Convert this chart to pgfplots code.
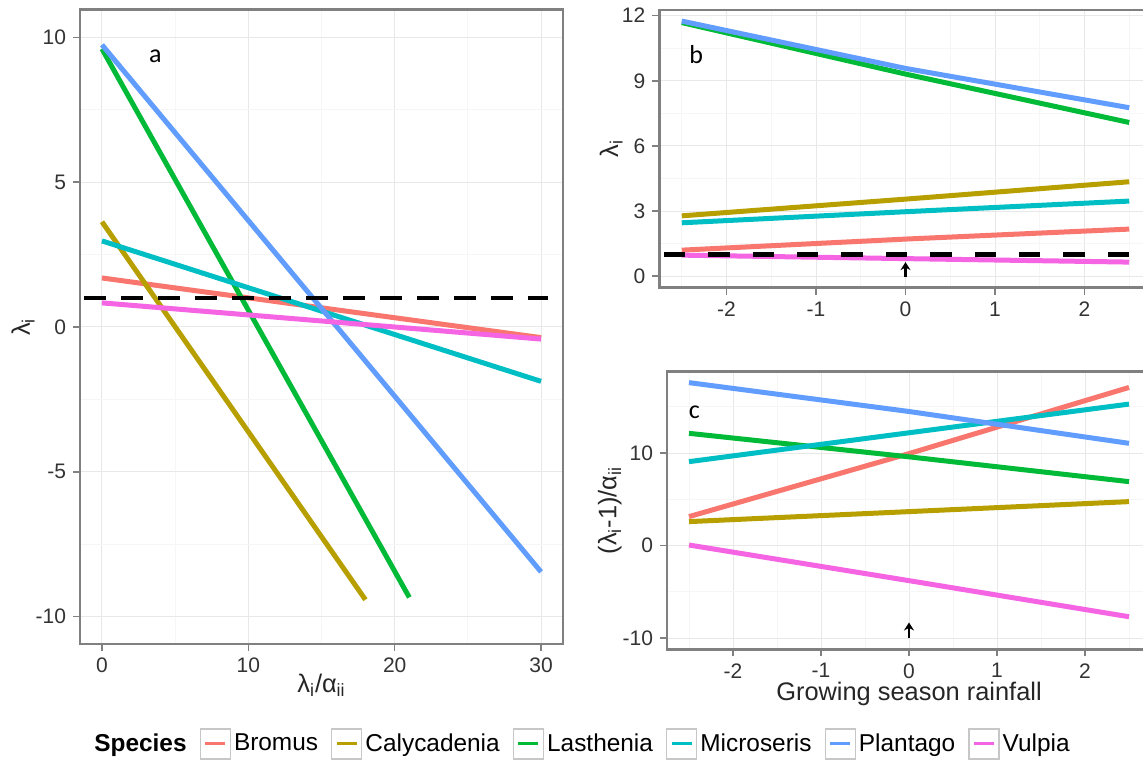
\documentclass[border=0pt]{standalone}
\usepackage{fontspec}
\setmainfont{Liberation Sans}
\newfontfamily\panelfont{Carlito}
\usepackage{pgfplots}
\pgfplotsset{compat=1.18}
\usetikzlibrary{arrows.meta}

\definecolor{cBro}{HTML}{F8766D}
\definecolor{cCal}{HTML}{B79F00}
\definecolor{cLas}{HTML}{00BA38}
\definecolor{cMic}{HTML}{00BFC4}
\definecolor{cPla}{HTML}{619CFF}
\definecolor{cVul}{HTML}{F564E3}
\definecolor{frameg}{gray}{0.5}
\definecolor{gmaj}{gray}{0.91}
\definecolor{gmin}{gray}{0.965}
\definecolor{keyg}{gray}{0.78}

\pgfplotsset{
  gg/.style={
    scale only axis,
    axis background/.style={fill=white},
    axis line style={draw=frameg, line width=1.3pt},
    tick align=outside,
    tick pos=left,
    major tick length=3.5pt,
    minor tick length=0pt,
    every tick/.style={draw=frameg, line width=0.8pt},
    grid=both,
    major grid style={draw=gmaj, line width=0.5pt},
    minor grid style={draw=gmin, line width=0.5pt},
    tick label style={font=\fontsize{10.5}{12}\selectfont, text=black!80},
    label style={font=\fontsize{12.7}{14}\selectfont, text=black!85},
    clip=false,
  },
  sp/.style={line width=2.5pt},
  arr/.style={black, line width=1.4pt, -{Stealth[length=4pt,width=5pt]}},
}

\begin{document}
\begin{tikzpicture}
\useasboundingbox (0,0) rectangle (571.5pt,380.5pt);
\clip (0,0) rectangle (571.5pt,380.5pt);

% ---------------- panel a
\begin{axis}[gg,
  at={(40pt,58.5pt)}, anchor=south west,
  width=241.5pt, height=317.1pt,
  xmin=-1.5, xmax=31.5, ymin=-10.95, ymax=10.95,
  xtick={0,10,20,30}, xticklabels={0,10,20,30},
  minor xtick={5,15,25},
  ytick={-10,-5,0,5,10}, yticklabels={-10,-5,0,5,10},
  minor ytick={-7.5,-2.5,2.5,7.5},
  xlabel={λ\textsubscript{i}/α\textsubscript{ii}},
  ylabel={λ\textsubscript{i}},
  xlabel style={at={(axis description cs:0.5,-0.0757)}, anchor=base},
  ylabel style={at={(axis description cs:-0.118,0.5)}, anchor=center},
  legend columns=-1,
  legend style={at={(axis description cs:1.0393,-0.1574)}, anchor=center,
    font=\fontsize{12.2}{14}\selectfont,
    nodes={inner sep=1.5pt},
    /tikz/every even column/.append style={column sep=5pt}},
  every axis legend/.append style={draw=none, fill=none},
]
\addlegendimage{empty legend}
\addlegendentry{\textbf{Species}}
\addplot[sp, cBro, forget plot] coordinates {(0,1.69) (30,-0.37)};
\addplot[sp, cCal, forget plot] coordinates {(0,3.63) (18,-9.42)};
\addplot[sp, cLas, forget plot] coordinates {(0,9.6) (21,-9.34)};
\addplot[sp, cMic, forget plot] coordinates {(0,2.97) (30,-1.88)};
\addplot[sp, cPla, forget plot] coordinates {(0,9.74) (30,-8.46)};
\addplot[sp, cVul, forget plot] coordinates {(0,0.83) (30,-0.42)};
\addplot[forget plot, black, line width=2.2pt, dash pattern=on 11pt off 7.5pt] coordinates {(-1.2,1) (30.5,1)};
\pgfplotsinvokeforeach{cBro/Bromus,cCal/Calycadenia,cLas/Lasthenia,cMic/Microseris,cPla/Plantago,cVul/Vulpia}{}
\addlegendimage{legend image code/.code={
    \path (0pt,0pt);
    \draw[draw=keyg, line width=0.7pt, solid] (0pt,-7.5pt) -- (15pt,-7.5pt) -- (15pt,7.5pt) -- (0pt,7.5pt) -- cycle;
    \draw[cBro, solid, line width=1.5pt] (2.5pt,0pt) -- (12.5pt,0pt);}}
\addlegendentry{Bromus}
\addlegendimage{legend image code/.code={
    \path (0pt,0pt);
    \draw[draw=keyg, line width=0.7pt, solid] (0pt,-7.5pt) -- (15pt,-7.5pt) -- (15pt,7.5pt) -- (0pt,7.5pt) -- cycle;
    \draw[cCal, solid, line width=1.5pt] (2.5pt,0pt) -- (12.5pt,0pt);}}
\addlegendentry{Calycadenia}
\addlegendimage{legend image code/.code={
    \path (0pt,0pt);
    \draw[draw=keyg, line width=0.7pt, solid] (0pt,-7.5pt) -- (15pt,-7.5pt) -- (15pt,7.5pt) -- (0pt,7.5pt) -- cycle;
    \draw[cLas, solid, line width=1.5pt] (2.5pt,0pt) -- (12.5pt,0pt);}}
\addlegendentry{Lasthenia}
\addlegendimage{legend image code/.code={
    \path (0pt,0pt);
    \draw[draw=keyg, line width=0.7pt, solid] (0pt,-7.5pt) -- (15pt,-7.5pt) -- (15pt,7.5pt) -- (0pt,7.5pt) -- cycle;
    \draw[cMic, solid, line width=1.5pt] (2.5pt,0pt) -- (12.5pt,0pt);}}
\addlegendentry{Microseris}
\addlegendimage{legend image code/.code={
    \path (0pt,0pt);
    \draw[draw=keyg, line width=0.7pt, solid] (0pt,-7.5pt) -- (15pt,-7.5pt) -- (15pt,7.5pt) -- (0pt,7.5pt) -- cycle;
    \draw[cPla, solid, line width=1.5pt] (2.5pt,0pt) -- (12.5pt,0pt);}}
\addlegendentry{Plantago}
\addlegendimage{legend image code/.code={
    \path (0pt,0pt);
    \draw[draw=keyg, line width=0.7pt, solid] (0pt,-7.5pt) -- (15pt,-7.5pt) -- (15pt,7.5pt) -- (0pt,7.5pt) -- cycle;
    \draw[cVul, solid, line width=1.5pt] (2.5pt,0pt) -- (12.5pt,0pt);}}
\addlegendentry{Vulpia}
\node[font=\panelfont\fontsize{13}{15}\selectfont] at (axis cs:3.65,9.35) {a};
\end{axis}

% ---------------- panel b
\begin{axis}[gg,
  at={(329.7pt,236.75pt)}, anchor=south west,
  width=246.1pt, height=138.75pt,
  xmin=-2.75, xmax=2.75, ymin=-0.52, ymax=12.26,
  xtick={-2,-1,0,1,2}, xticklabels={-2,-1,0,1,2},
  minor xtick={-2.5,-1.5,-0.5,0.5,1.5,2.5},
  ytick={0,3,6,9,12}, yticklabels={0,3,6,9,12},
  minor ytick={1.5,4.5,7.5,10.5},
  ylabel={λ\textsubscript{i}},
  ylabel style={at={(axis description cs:-0.098,0.5)}, anchor=center},
]
\addplot[sp, cBro] coordinates {(-2.5,1.20) (0,1.71) (2.5,2.17)};
\addplot[sp, cCal] coordinates {(-2.5,2.78) (0,3.55) (2.5,4.35)};
\addplot[sp, cLas] coordinates {(-2.5,11.68) (0,9.31) (2.5,7.08)};
\addplot[sp, cMic] coordinates {(-2.5,2.46) (0,2.97) (2.5,3.46)};
\addplot[sp, cPla] coordinates {(-2.5,11.75) (0,9.57) (2.5,7.76)};
\addplot[sp, cVul] coordinates {(-2.5,0.97) (0,0.81) (2.5,0.65)};
\addplot[black, line width=2.2pt, dash pattern=on 10.7pt off 11.5pt] coordinates {(-2.7,1) (2.75,1)};
\addplot[arr] coordinates {(0,-0.03) (0,0.65)};
\node[font=\panelfont\fontsize{13}{15}\selectfont] at (axis cs:-2.34,10.19) {b};
\end{axis}

% ---------------- panel c
\begin{axis}[gg,
  at={(333.5pt,55.85pt)}, anchor=south west,
  width=242pt, height=138.8pt,
  xmin=-2.75, xmax=2.75, ymin=-11.2, ymax=18.8,
  xtick={-2,-1,0,1,2}, xticklabels={-2,-1,0,1,2},
  minor xtick={-2.5,-1.5,-0.5,0.5,1.5,2.5},
  ytick={-10,0,10}, yticklabels={-10,0,10},
  minor ytick={-5,5,15},
  xlabel={Growing season rainfall},
  ylabel={(λ\textsubscript{i}-1)/α\textsubscript{ii}},
  xlabel style={at={(axis description cs:0.5,-0.183)}, anchor=base},
  ylabel style={at={(axis description cs:-0.118,0.5)}, anchor=center},
]
\addplot[sp, cBro] coordinates {(-2.5,3.14) (0,9.95) (2.5,17.1)};
\addplot[sp, cCal] coordinates {(-2.5,2.6) (0,3.68) (2.5,4.76)};
\addplot[sp, cLas] coordinates {(-2.5,12.14) (0,9.6) (2.5,6.92)};
\addplot[sp, cMic] coordinates {(-2.5,9.08) (0,12.2) (2.5,15.3)};
\addplot[sp, cPla] coordinates {(-2.5,17.62) (0,14.5) (2.5,11.06)};
\addplot[sp, cVul] coordinates {(-2.5,0.07) (0,-3.78) (2.5,-7.68)};
\addplot[arr] coordinates {(0,-10) (0,-8.3)};
\node[font=\panelfont\fontsize{13}{15}\selectfont] at (axis cs:-2.44,14.4) {c};
\end{axis}
\end{tikzpicture}
\end{document}
